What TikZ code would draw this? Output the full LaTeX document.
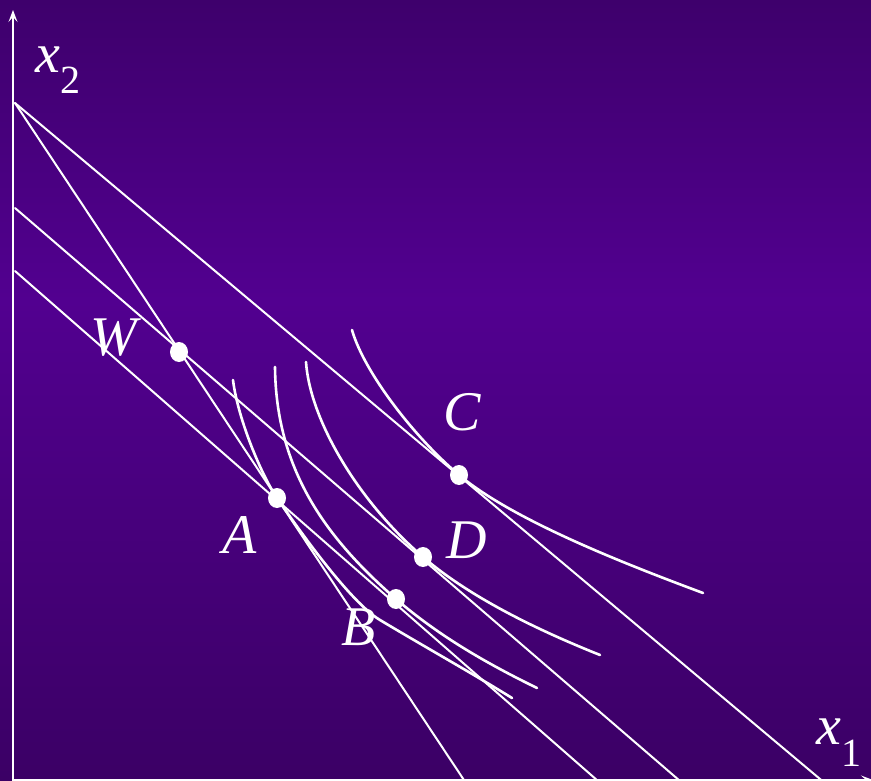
\documentclass[tikz,border=0pt]{standalone}
\usepackage{fontspec}
\setmainfont{Liberation Serif}
\usetikzlibrary{arrows.meta,shapes.geometric}
\definecolor{bgtop}{RGB}{62,0,108}
\definecolor{bgmid}{RGB}{82,0,144}
\definecolor{bgbot}{RGB}{59,0,101}
\newcommand\mysubfont{\upshape\fontsize{40}{40}\selectfont}
\begin{document}
\begin{tikzpicture}[x=1pt,y=-1pt,line cap=round,
  axisline/.style={white,line width=2pt,-{Stealth[length=12pt,width=9pt,inset=5pt]}},
  budget/.style={white,line width=2pt},
  icurve/.style={white,line width=2.6pt},
  dot/.style={ellipse,fill=white,inner sep=0pt,minimum width=18pt,minimum height=20pt},
  lab/.style={text=white,inner sep=0pt,anchor=base west,font=\fontsize{56}{60}\selectfont\itshape}]
\useasboundingbox (0,0) rectangle (871,781);
\shade[top color=bgtop,bottom color=bgmid] (0,0) rectangle (871,300.5);
\shade[top color=bgmid,bottom color=bgbot] (0,300) rectangle (871,781);

% named points
\coordinate (Y0) at (13,781);
\coordinate (Ytip) at (13,10);
\coordinate (X0) at (13,780);
\coordinate (Xtip) at (873,780);
\coordinate (I1) at (15,103);
\coordinate (I3) at (15,208);
\coordinate (I4) at (15,271);
\coordinate (E1) at (464.6,781);
\coordinate (E2) at (822.4,781);
\coordinate (E3) at (680,781);
\coordinate (E4) at (598,781);
% curve ends
\coordinate (CS) at (352,330);  \coordinate (CE) at (703,593);
\coordinate (DS) at (306,362);  \coordinate (DE) at (600,655);
\coordinate (BS) at (275,367);  \coordinate (BE) at (537,688);
\coordinate (AS) at (233,380);  \coordinate (AM) at (380,620);  \coordinate (AE) at (512,698);
\coordinate (pC) at (459,475);
\coordinate (pD) at (423,557);
\coordinate (pB) at (396,599);
\coordinate (pA) at (277,498);

\begin{scope}
\clip (0,0) rectangle (871,781);
% budget lines
\draw[budget] (I1) -- (E1);
\draw[budget] (I1) -- (E2);
\draw[budget] (I3) -- (E3);
\draw[budget] (I4) -- (E4);
% indifference curves
\draw[icurve] (CS) .. controls (364,372) and (414,437) .. (pC)
                   .. controls (514,521) and (628,565) .. (CE);
\draw[icurve] (DS) .. controls (310,420) and (358,501) .. (pD)
                   .. controls (473,600) and (545,633) .. (DE);
\draw[icurve] (BS) .. controls (276,470) and (326,538) .. (pB)
                   .. controls (441,638) and (492,666) .. (BE);
\draw[icurve] (AS) .. controls (238,420) and (262,476) .. (pA)
                   .. controls (299,530) and (350,602) .. (AM)
                   .. controls (425,647) and (470,672) .. (AE);
% axes
\draw[axisline] (Y0) -- (Ytip);
\draw[axisline] (X0) -- (Xtip);
\end{scope}

% points
\node[dot] (W) at (179,352) {};
\node[dot] (A) at (pA) {};
\node[dot] (B) at (pB) {};
\node[dot] (C) at (pC) {};
\node[dot] (D) at (pD) {};

% labels
\node[lab] (lW) at (90,355) {W};
\node[lab] (lA) at (222,553) {A};
\node[lab] (lB) at (341,645) {B};
\node[lab] (lC) at (443,430) {C};
\node[lab] (lD) at (446,558) {D};
\node[lab] (lx2) at (35,73) {x\raisebox{-21pt}{\mysubfont 2}};
\node[lab] (lx1) at (816,744) {x\raisebox{-22pt}{\mysubfont 1}};
\end{tikzpicture}
\end{document}
